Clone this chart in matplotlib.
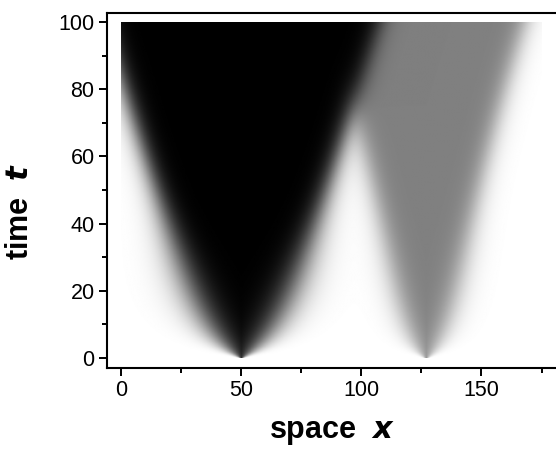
import numpy as np
import matplotlib
matplotlib.use("Agg")
import matplotlib.pyplot as plt
from matplotlib.ticker import MultipleLocator

plt.rcParams['font.family'] = ['Liberation Sans', 'DejaVu Sans']

# ---- data ----
x_ticks = [0, 50, 100, 150]
t_ticks = [0, 20, 40, 60, 80, 100]
x_range = [0, 175]          # extent of the simulated domain
t_range = [0, 100]
apex_x = [50, 127]          # origin of each invading population
level = [1.0, 0.5]          # darkness of each population (black, grey)
lin_speed = [0.43, 0.20]    # linear front speed
quad_acc = [0.0, 0.0012]    # front acceleration
early_jump = [14.0, 8.5]    # extra early spread
early_tau = [10.0, 10.0]
edge_w = [2.3, 2.4]         # front sharpness at late times
edge_w_early = [2.0, 0.6]   # extra blur at early times

# ---- build the space-time field ----
xs = np.linspace(x_range[0], x_range[1], 701)
ts = np.linspace(t_range[0], t_range[1], 401)
X, T = np.meshgrid(xs, ts)

dens = []
for i in range(2):
    off = lin_speed[i] * T + quad_acc[i] * T**2 + early_jump[i] * (1 - np.exp(-T / early_tau[i])) + 0.6
    w = (edge_w[i] + edge_w_early[i] * np.exp(-((T - 15) / 25) ** 2)) * (1 - np.exp(-T / 3)) + 0.35
    d = np.abs(X - apex_x[i]) - off
    dens.append(1.0 / (1.0 + np.exp(d / w)))
u, v = dens
dark = level[0] * u + (1 - u) * level[1] * v
bright = 1 - dark

fig = plt.figure(figsize=(5.56, 4.51), dpi=100)
ax = fig.add_axes([107 / 556, 83 / 451, 449 / 556, 355 / 451])
ax.imshow(bright, cmap='gray', vmin=0, vmax=1, origin='lower',
          extent=[x_range[0], x_range[1], t_range[0], t_range[1]],
          aspect='auto', interpolation='bilinear')
ax.set_xlim(-5.8, 181)
ax.set_ylim(-3.0, 102.7)

ax.set_xticks(x_ticks)
ax.set_yticks(t_ticks)
ax.xaxis.set_minor_locator(MultipleLocator(25))
ax.yaxis.set_minor_locator(MultipleLocator(10))
ax.tick_params(which='major', direction='out', length=6, width=1.4, labelsize=15.5, pad=3)
ax.tick_params(which='minor', direction='out', length=3.5, width=1.4)
for s in ['left', 'bottom', 'top']:
    ax.spines[s].set_linewidth(1.5)
ax.spines['right'].set_visible(False)

ax.set_xlabel(r'space  $\boldsymbol{x}$', fontsize=22, fontweight='bold', labelpad=11)
ax.set_ylabel('time  $\\boldsymbol{t}$', fontsize=22, fontweight='bold')
ax.yaxis.set_label_coords(-0.160, 0.44)

fig.savefig('out.png', dpi=100)
